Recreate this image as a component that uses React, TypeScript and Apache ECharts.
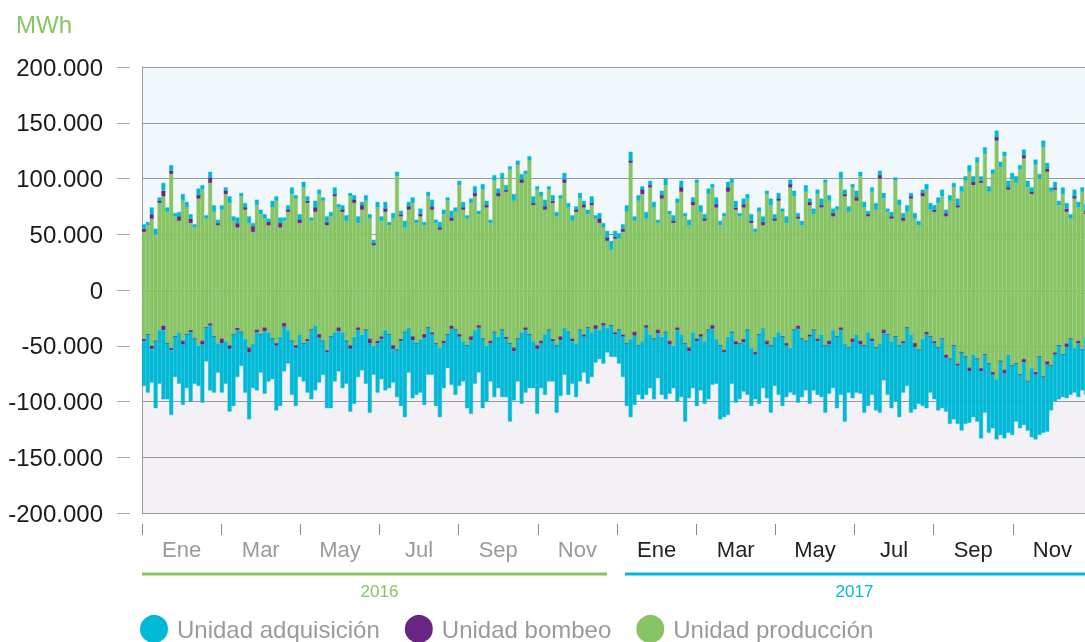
import React, { useEffect, useRef } from "react";
import * as echarts from "echarts";

// Values in thousands of MWh, one point every ~3 days
const monthLabels = ["Ene", "Mar", "May", "Jul", "Sep", "Nov", "Ene", "Mar", "May", "Jul", "Sep", "Nov"];
const yearLabels = ["2016", "2017"];
const yTicks = [-200, -150, -100, -50, 0, 50, 100, 150, 200];

// ---- 2016 ----
const prodPos2016 = [
  52, 58, 64, 50, 78, 84, 70, 104, 66, 62, 80,
  74, 60, 56, 82, 90, 64, 96, 70, 58, 72,
  86, 78, 62, 56, 84, 72, 60, 52, 76, 68,
  64, 58, 74, 80, 56, 62, 70, 86, 82, 60,
  92, 78, 62, 70, 86, 80, 58, 66, 84, 74,
  70, 62, 84, 78, 60, 72, 80, 64, 40, 74,
  62, 70, 58, 64, 102, 66, 56, 72, 78, 60,
  66, 58, 84, 72, 60, 54, 68, 80, 62, 70,
  94, 72, 64, 78, 84, 68, 90, 74, 60, 98, 84,
  100, 88, 108, 80, 112, 96, 104, 116, 76, 90,
  84, 72, 90, 78, 66, 82, 96, 74, 62, 70,
  82, 74, 68, 76, 64, 60, 56, 44, 36, 46,
];
const pumpPos2016 = [
  3, 0, 4, 0, 2, 5, 0, 3, 0, 4, 0,
  0, 4, 0, 3, 0, 0, 5, 0, 2, 0,
  3, 0, 0, 4, 0, 2, 0, 5, 0, 0,
  0, 3, 0, 0, 4, 0, 2, 0, 0, 3,
  0, 2, 0, 4, 0, 0, 3, 0, 2, 0,
  2, 0, 0, 3, 0, 4, 0, 0, 2, 0,
  0, 3, 0, 0, 0, 2, 0, 3, 0, 0,
  2, 0, 0, 3, 0, 2, 0, 0, 3, 0,
  0, 2, 0, 0, 3, 0, 0, 2, 0, 0, 3,
  0, 2, 0, 0, 0, 3, 0, 0, 2, 0,
  0, 3, 0, 2, 0, 0, 3, 0, 0, 2,
  0, 3, 0, 2, 0, 4, 0, 3, 0, 2,
];
const acqPos2016 = [
  4, 3, 6, 5, 3, 7, 4, 5, 3, 4, 6,
  5, 4, 3, 6, 4, 3, 5, 6, 3, 4,
  3, 6, 4, 5, 3, 4, 6, 3, 5, 4,
  4, 3, 6, 4, 5, 3, 4, 6, 3, 5,
  5, 4, 3, 6, 4, 3, 5, 4, 6, 3,
  4, 5, 3, 4, 6, 3, 5, 4, 3, 5,
  4, 6, 3, 5, 4, 3, 6, 4, 5, 3,
  5, 3, 4, 6, 3, 5, 4, 3, 6, 4,
  4, 5, 3, 4, 6, 3, 5, 4, 3, 5, 4,
  5, 4, 3, 6, 4, 5, 3, 4, 6, 3,
  4, 6, 3, 5, 4, 3, 6, 4, 5, 3,
  5, 3, 4, 6, 3, 5, 4, 6, 8, 5,
];
const prodNeg2016 = [
  -44, -40, -50, -46, -36, -32, -48, -52, -42, -38, -46,
  -40, -36, -44, -50, -46, -34, -30, -42, -48, -44,
  -46, -50, -40, -34, -38, -44, -52, -48, -36, -40,
  -34, -38, -44, -48, -42, -30, -36, -46, -50, -40,
  -48, -44, -36, -32, -40, -46, -54, -42, -38, -34,
  -38, -46, -50, -42, -34, -40, -36, -44, -50, -46,
  -42, -36, -40, -50, -54, -44, -38, -34, -42, -48,
  -44, -40, -34, -38, -48, -52, -46, -40, -32, -36,
  -40, -46, -50, -42, -36, -32, -44, -50, -46, -38, -42,
  -36, -42, -48, -52, -44, -38, -34, -40, -46, -50,
  -46, -40, -36, -44, -50, -42, -34, -38, -44, -48,
  -36, -40, -34, -38, -32, -36, -30, -34, -32, -38,
];
const pumpNeg2016 = [
  -2, 0, -3, 0, 0, -4, 0, -2, 0, 0, -3,
  0, -2, 0, 0, -3, 0, -2, 0, 0, -4,
  0, -3, 0, -2, 0, 0, -4, 0, -2, 0,
  -3, 0, 0, -2, 0, -3, 0, 0, -2, 0,
  0, -2, 0, 0, -3, 0, -2, 0, 0, -3,
  0, 0, -3, 0, -2, 0, 0, -4, 0, -2,
  -2, 0, 0, -3, 0, -2, 0, 0, -3, 0,
  0, -3, 0, -2, 0, 0, -2, 0, -3, 0,
  -2, 0, 0, -3, 0, -2, 0, 0, -2, 0, 0,
  0, -2, 0, -3, 0, 0, -2, 0, 0, -3,
  -2, 0, 0, -2, 0, -3, 0, 0, -2, 0,
  0, -2, 0, 0, -3, 0, -2, 0, 0, -2,
];
const acqNeg2016 = [
  -40, -52, -30, -60, -48, -62, -50, -58, -36, -46, -54,
  -48, -62, -40, -36, -52, -30, -58, -50, -26, -44,
  -38, -56, -64, -42, -30, -48, -60, -40, -52, -34,
  -56, -44, -36, -58, -62, -40, -30, -48, -52, -38,
  -34, -46, -62, -58, -40, -30, -50, -64, -44, -36,
  -50, -38, -56, -60, -42, -32, -48, -62, -26, -44,
  -36, -54, -48, -30, -42, -58, -76, -40, -52, -46,
  -48, -60, -42, -36, -56, -62, -40, -30, -50, -58,
  -44, -36, -56, -66, -48, -40, -62, -50, -34, -58, -46,
  -60, -52, -70, -44, -38, -64, -56, -48, -42, -58,
  -40, -54, -46, -36, -60, -50, -42, -56, -38, -48,
  -46, -32, -50, -40, -30, -26, -34, -22, -28, -20,
];

// ---- 2017 ----
const prodPos2017 = [
  46, 52, 70, 114, 62, 80, 86, 64, 92, 74, 60,
  82, 94, 68, 60, 78, 88, 66, 58, 76, 96,
  70, 62, 86, 92, 74, 58, 66, 88, 96, 72,
  66, 74, 82, 60, 52, 70, 58, 86, 76, 62,
  80, 70, 60, 92, 84, 64, 58, 88, 76, 68,
  86, 74, 96, 80, 66, 72, 100, 84, 70, 92,
  80, 102, 74, 66, 88, 72, 100, 82, 70, 64,
  98, 76, 62, 70, 82, 64, 58, 84, 90, 72,
  70, 78, 84, 66, 80, 92, 74, 88, 98, 106, 94,
  114, 96, 122, 88, 104, 134, 110, 120, 90, 100,
  96, 108, 118, 92, 86, 112, 100, 128, 106, 88,
  90, 76, 86, 70, 64, 82, 74, 88, 68, 72,
];
const pumpPos2017 = [
  0, 3, 0, 2, 0, 0, 4, 0, 2, 0, 0,
  3, 0, 0, 2, 0, 4, 0, 0, 3, 0,
  0, 2, 0, 0, 3, 0, 0, 4, 0, 2,
  0, 3, 0, 2, 0, 0, 3, 0, 0, 2,
  2, 0, 0, 3, 0, 2, 0, 0, 3, 0,
  0, 2, 0, 0, 3, 0, 0, 2, 0, 0,
  3, 0, 0, 2, 0, 0, 3, 0, 0, 2,
  0, 0, 3, 0, 2, 0, 0, 3, 0, 0,
  2, 0, 0, 3, 0, 0, 2, 0, 0, 0, 3,
  0, 2, 0, 0, 0, 3, 0, 0, 2, 0,
  0, 0, 3, 0, 2, 0, 0, 0, 3, 0,
  2, 0, 0, 3, 0, 2, 0, 0, 3, 0,
];
const acqPos2017 = [
  5, 4, 6, 8, 4, 5, 3, 6, 4, 5, 3,
  4, 6, 3, 5, 4, 6, 3, 5, 4, 3,
  6, 4, 5, 3, 6, 4, 3, 5, 4, 6,
  3, 5, 4, 6, 3, 4, 5, 3, 6, 4,
  5, 3, 6, 4, 5, 3, 4, 6, 3, 5,
  4, 6, 3, 5, 4, 3, 6, 4, 5, 3,
  6, 4, 5, 3, 4, 6, 4, 5, 3, 4,
  3, 5, 4, 6, 3, 5, 4, 3, 5, 6,
  4, 5, 6, 3, 5, 4, 6, 5, 4, 6, 5,
  5, 4, 6, 5, 4, 6, 5, 4, 6, 5,
  6, 4, 5, 6, 4, 5, 4, 6, 5, 4,
  5, 4, 6, 5, 4, 6, 5, 4, 6, 5,
];
const prodNeg2017 = [
  -36, -40, -48, -44, -38, -50, -46, -32, -40, -44, -36,
  -42, -38, -46, -50, -34, -40, -48, -52, -38, -44,
  -40, -46, -36, -32, -44, -50, -54, -42, -38, -46,
  -48, -44, -36, -52, -56, -40, -34, -46, -50, -42,
  -38, -42, -48, -52, -36, -32, -44, -46, -40, -36,
  -44, -40, -50, -46, -36, -42, -34, -48, -52, -44,
  -40, -46, -50, -38, -44, -52, -48, -36, -40, -46,
  -42, -50, -46, -34, -40, -48, -54, -44, -38, -42,
  -46, -52, -44, -58, -62, -50, -66, -56, -60, -70, -58,
  -62, -70, -58, -66, -74, -80, -64, -72, -58, -68,
  -66, -76, -62, -82, -70, -74, -60, -78, -64, -68,
  -56, -50, -58, -48, -44, -52, -46, -54, -42, -48,
];
const pumpNeg2017 = [
  0, -2, 0, 0, -3, 0, 0, -2, 0, 0, -3,
  0, 0, -3, 0, -2, 0, 0, -3, 0, -2,
  -2, 0, 0, -3, 0, 0, -2, 0, 0, -3,
  0, -3, 0, 0, -2, 0, 0, -3, 0, 0,
  0, 0, -2, 0, 0, -3, 0, 0, -2, 0,
  -2, 0, 0, -3, 0, 0, -2, 0, 0, -3,
  0, -3, 0, 0, -2, 0, 0, -3, 0, 0,
  0, 0, -2, 0, 0, -3, 0, 0, -2, 0,
  -2, 0, 0, -3, 0, 0, -2, 0, 0, -3, 0,
  0, -3, 0, 0, -2, 0, 0, -3, 0, 0,
  0, 0, -3, 0, 0, -2, 0, 0, -3, 0,
  -2, 0, 0, -3, 0, 0, -2, 0, 0, -2,
];
const acqNeg2017 = [
  -30, -36, -56, -70, -62, -44, -52, -60, -48, -54, -40,
  -52, -60, -44, -38, -64, -56, -70, -42, -50, -58,
  -48, -56, -62, -50, -40, -66, -58, -70, -46, -52,
  -50, -44, -58, -52, -40, -62, -54, -48, -60, -44,
  -56, -62, -46, -40, -58, -66, -52, -44, -60, -54,
  -48, -56, -60, -44, -52, -64, -58, -70, -40, -50,
  -52, -44, -60, -66, -48, -56, -62, -42, -54, -60,
  -58, -64, -44, -52, -70, -56, -48, -60, -66, -50,
  -50, -56, -62, -48, -58, -66, -52, -70, -60, -46, -56,
  -56, -60, -52, -62, -48, -54, -66, -58, -70, -62,
  -52, -48, -56, -44, -62, -58, -70, -50, -60, -40,
  -42, -48, -38, -46, -50, -40, -48, -36, -52, -44,
];

const prodPos = [...prodPos2016, ...prodPos2017];
const pumpPos = [...pumpPos2016, ...pumpPos2017];
const acqPos = [...acqPos2016, ...acqPos2017];
const prodNeg = [...prodNeg2016, ...prodNeg2017];
const pumpNeg = [...pumpNeg2016, ...pumpNeg2017];
const acqNeg = [...acqNeg2016, ...acqNeg2017];
const periods = prodPos.map((_, i) => String(i));

const GREEN = "#88c464";
const CYAN = "#00b9d6";
const PURPLE = "#6a2483";
const FONT = "'Liberation Sans', Arial, sans-serif";

const NAME_ACQ = "Unidad adquisición";
const NAME_PUMP = "Unidad bombeo";
const NAME_PROD = "Unidad producción";

function barSeries(name: string, data: number[], color: string) {
  return {
    name,
    type: "bar",
    stack: "total",
    xAxisIndex: 0,
    yAxisIndex: 0,
    data,
    barCategoryGap: "0%",
    itemStyle: { color, borderColor: color, borderWidth: 0.4 },
    z: 3,
    silent: true,
  };
}

export default function App() {
  const ref = useRef<HTMLDivElement>(null);
  useEffect(() => {
    if (!ref.current) return;
    const chart = echarts.init(ref.current, undefined, { renderer: "svg" });
    const gridLeft = 142;
    const gridTop = 67;
    const gridRight = 1092;
    const gridBottom = 513;
    const mid = (gridTop + gridBottom) / 2;
    chart.setOption({
      animation: false,
      textStyle: { fontFamily: FONT },
      title: {
        text: "MWh",
        left: 16,
        top: 12,
        padding: 0,
        textStyle: { color: GREEN, fontSize: 24, fontWeight: "normal", fontFamily: FONT },
      },
      legend: {
        data: [NAME_ACQ, NAME_PUMP, NAME_PROD],
        left: 140,
        top: 615,
        padding: 0,
        icon: "circle",
        itemWidth: 26,
        itemHeight: 26,
        itemGap: 25,
        selectedMode: false,
        textStyle: { color: "#9a9a9a", fontSize: 24, fontFamily: FONT, padding: [0, 0, 0, 5] },
      },
      grid: { left: gridLeft, top: gridTop, right: 1100 - gridRight, bottom: 642 - gridBottom, containLabel: false },
      graphic: [
        { type: "rect", z: -10, silent: true, shape: { x: gridLeft, y: gridTop, width: gridRight - gridLeft, height: mid - gridTop }, style: { fill: "#f0f8fb" } },
        { type: "rect", z: -10, silent: true, shape: { x: gridLeft, y: mid, width: gridRight - gridLeft, height: gridBottom - mid }, style: { fill: "#f3f0f6" } },
        { type: "line", silent: true, shape: { x1: 142, y1: 574, x2: 607, y2: 574 }, style: { stroke: GREEN, lineWidth: 3 } },
        { type: "line", silent: true, shape: { x1: 625, y1: 574, x2: 1092, y2: 574 }, style: { stroke: CYAN, lineWidth: 3 } },
      ],
      xAxis: [
        {
          type: "category",
          data: periods,
          boundaryGap: true,
          axisLine: { show: false },
          axisTick: { show: false },
          axisLabel: { show: false },
          splitLine: { show: false },
        },
        {
          type: "category",
          data: monthLabels,
          position: "bottom",
          offset: 11,
          boundaryGap: true,
          axisLine: { show: false },
          axisTick: { show: false },
          axisLabel: {
            interval: 0,
            margin: 14,
            fontSize: 22,
            fontFamily: FONT,
            color: (_v: string, i: number) => (i < 6 ? "#9a9a9a" : "#222222"),
          },
          splitLine: { show: false },
        },
        {
          type: "category",
          data: yearLabels,
          position: "bottom",
          offset: 66,
          boundaryGap: true,
          axisLine: { show: false },
          axisTick: { show: false },
          axisLabel: {
            interval: 0,
            margin: 4,
            fontSize: 17,
            fontFamily: FONT,
            color: (_v: string, i: number) => (i === 0 ? GREEN : CYAN),
          },
          splitLine: { show: false },
        },
        {
          type: "value",
          min: 0,
          max: 12,
          interval: 1,
          position: "bottom",
          offset: 11,
          axisLine: { show: false },
          axisTick: { show: true, length: 11, lineStyle: { color: "#8a8a8a", width: 1 } },
          axisLabel: { show: false },
          splitLine: { show: false },
        },
      ],
      yAxis: [
        {
          type: "value",
          min: yTicks[0],
          max: yTicks[yTicks.length - 1],
          interval: 50,
          axisLine: { show: true, lineStyle: { color: "#9a9a9a", width: 1 } },
          axisTick: { show: false },
          axisLabel: { show: false },
          splitLine: { show: true, lineStyle: { color: "#9a9a9a", width: 1 } },
        },
        {
          type: "value",
          min: yTicks[0],
          max: yTicks[yTicks.length - 1],
          interval: 50,
          position: "left",
          offset: 12,
          axisLine: { show: false },
          axisTick: { show: true, length: 13, lineStyle: { color: "#aaaaaa", width: 1 } },
          axisLabel: {
            margin: 27,
            fontSize: 24,
            fontFamily: FONT,
            color: "#1a1a1a",
            formatter: (v: number) => (v === 0 ? "0" : `${v}.000`),
          },
          splitLine: { show: false },
        },
      ],
      series: [
        barSeries(NAME_PROD, prodPos, GREEN),
        barSeries(NAME_PROD, prodNeg, GREEN),
        barSeries(NAME_PUMP, pumpPos, PURPLE),
        barSeries(NAME_PUMP, pumpNeg, PURPLE),
        barSeries(NAME_ACQ, acqPos, CYAN),
        barSeries(NAME_ACQ, acqNeg, CYAN),
      ],
    });
    return () => chart.dispose();
  }, []);
  return (
    <div style={{ position: "fixed", left: 0, top: 0, width: 1085, height: 642, overflow: "hidden" }}>
      <div ref={ref} style={{ width: 1100, height: 642 }} />
    </div>
  );
}
